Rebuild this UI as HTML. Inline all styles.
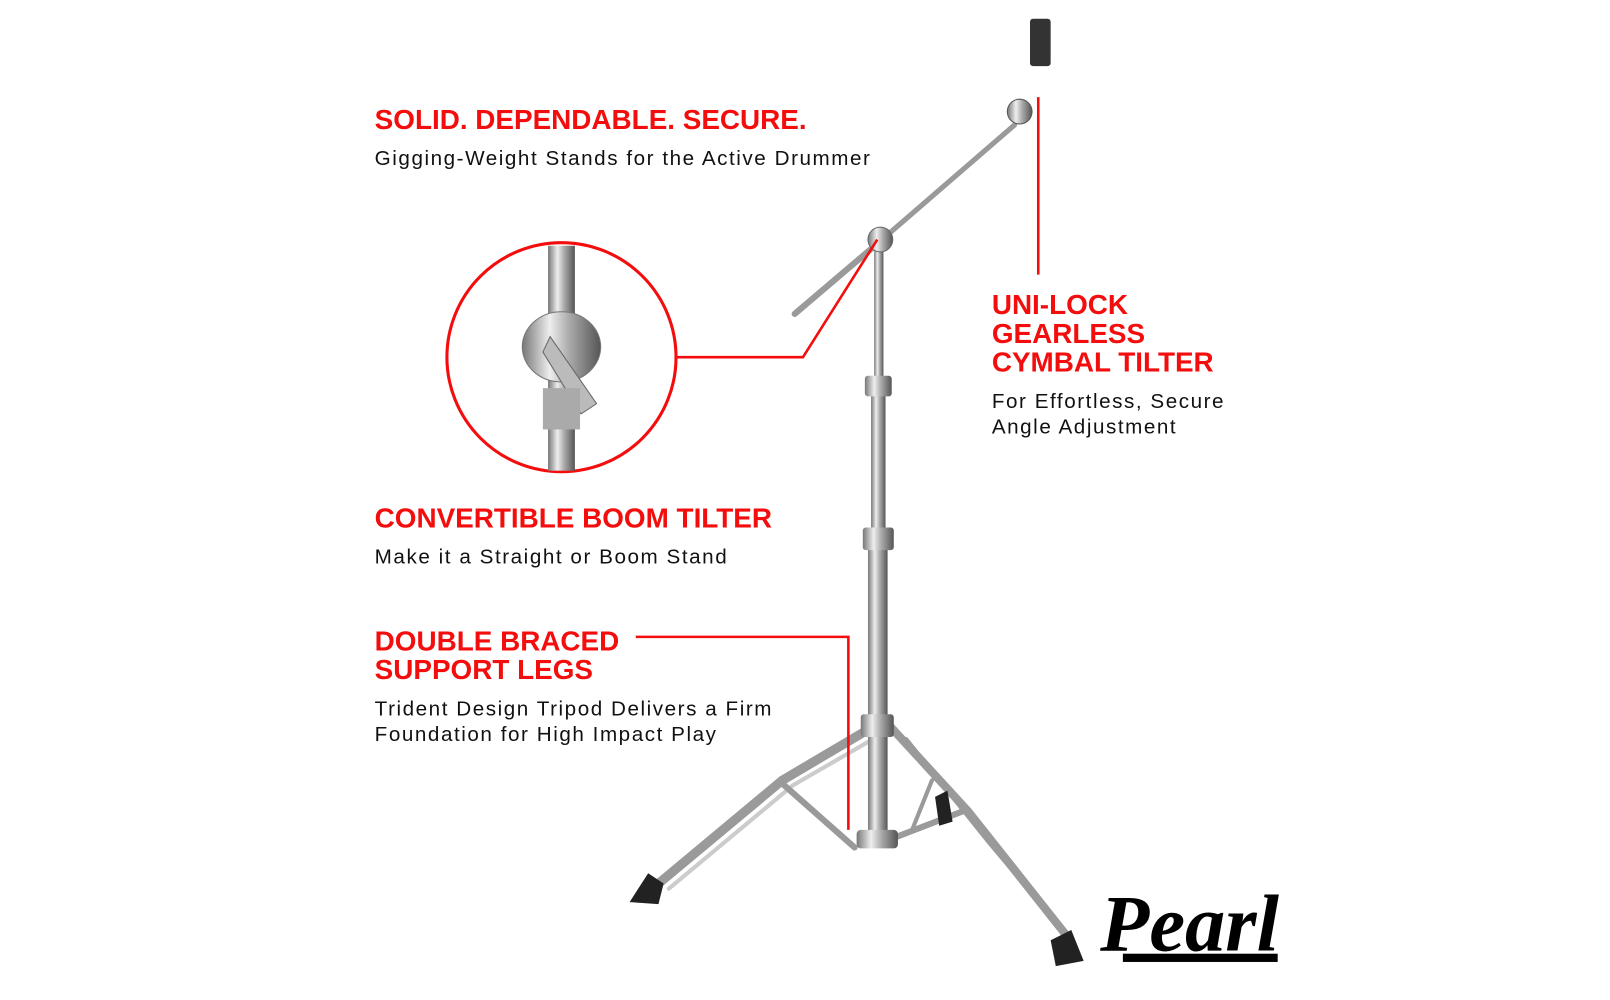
<!DOCTYPE html>
<html><head><style>
body{margin:0;width:1610px;height:1000px;background:#fff;position:relative;overflow:hidden;font-family:"Liberation Sans",sans-serif}
#w{position:absolute;left:-2px;top:-4px;width:1560px;height:969px;transform:scale(1.032);transform-origin:0 0}
.h{position:absolute;color:#f30d0d;font-weight:bold;font-size:27px;line-height:28px;letter-spacing:0px}
.b{position:absolute;color:#111;font-size:20px;line-height:25px;letter-spacing:1.5px}
svg{position:absolute;left:0;top:0}
</style></head><body><div id="w">
<svg width="1560" height="969">
<defs>
<linearGradient id="ch" x1="0" x2="1"><stop offset="0" stop-color="#777"/><stop offset=".35" stop-color="#eee"/><stop offset=".6" stop-color="#aaa"/><stop offset="1" stop-color="#555"/></linearGradient>
</defs>
<g stroke="#9a9a9a" stroke-linecap="round" fill="none">
<line x1="772" y1="308" x2="852" y2="240" stroke-width="6"/>
<line x1="852" y1="240" x2="985" y2="125" stroke-width="5"/>
<path d="M848 708 L760 760 L640 860" stroke-width="9"/>
<path d="M848 720 L770 765 L650 865" stroke-width="4" stroke="#ccc"/>
<path d="M762 765 L830 825" stroke-width="6"/>
<path d="M862 705 L940 790 L1035 910" stroke-width="8"/>
<path d="M880 720 L960 820 L1040 915" stroke-width="4"/>
<path d="M870 815 L935 790" stroke-width="6"/>
<path d="M905 760 L885 810" stroke-width="4"/>
</g>
<rect x="849" y="245" width="9" height="140" fill="url(#ch)"/>
<rect x="846" y="385" width="14" height="140" fill="url(#ch)"/>
<rect x="843" y="525" width="19" height="300" fill="url(#ch)"/>
<rect x="840" y="368" width="26" height="20" rx="3" fill="url(#ch)"/>
<rect x="838" y="515" width="30" height="22" rx="3" fill="url(#ch)"/>
<rect x="836" y="696" width="32" height="22" rx="3" fill="url(#ch)"/>
<rect x="832" y="808" width="40" height="18" rx="4" fill="url(#ch)"/>
<circle cx="855" cy="236" r="12" fill="url(#ch)" stroke="#666"/>
<circle cx="990" cy="112" r="12" fill="url(#ch)" stroke="#555"/>
<rect x="1000" y="22" width="20" height="46" rx="3" fill="#333"/>
<path d="M612 878 L630 850 L645 860 L640 880 Z" fill="#222"/>
<path d="M1020 915 L1040 905 L1052 935 L1025 940 Z" fill="#222"/>
<path d="M908 776 L920 770 L925 800 L912 804 Z" fill="#222"/>
<g stroke="#f30d0d" stroke-width="2.5" fill="none">
<circle cx="546" cy="350" r="111" stroke-width="3"/>
<polyline points="658,350 780,350 852,236"/>
<line x1="1008" y1="98" x2="1008" y2="270"/>
<polyline points="618,621 824,621 824,808"/>
</g>
<rect x="533" y="242" width="26" height="218" fill="url(#ch)"/>
<ellipse cx="546" cy="340" rx="38" ry="34" fill="url(#ch)" stroke="#777"/>
<path d="M535 330 L580 395 L565 405 L528 345 Z" fill="#bbb" stroke="#666"/>
<rect x="528" y="380" width="36" height="40" fill="#aaa"/>
<text x="1068" y="925" font-family="Liberation Serif,serif" font-style="italic" font-weight="bold" font-size="78" fill="#000">Pearl</text>
<rect x="1090" y="928" width="150" height="8" fill="#000"/>
</svg>
<div class="h" style="left:365px;top:106px">SOLID. DEPENDABLE. SECURE.</div>
<div class="h" style="left:365px;top:492px">CONVERTIBLE BOOM TILTER</div>
<div class="h" style="left:365px;top:611px">DOUBLE BRACED<br>SUPPORT LEGS</div>
<div class="h" style="left:963px;top:285px">UNI-LOCK<br>GEARLESS<br>CYMBAL TILTER</div>
<div class="b" style="left:365px;top:146px">Gigging-Weight Stands for the Active Drummer</div>
<div class="b" style="left:365px;top:532px">Make it a Straight or Boom Stand</div>
<div class="b" style="left:365px;top:679px">Trident Design Tripod Delivers a Firm<br>Foundation for High Impact Play</div>
<div class="b" style="left:963px;top:381px">For Effortless, Secure<br>Angle Adjustment</div>
</div></body></html>
